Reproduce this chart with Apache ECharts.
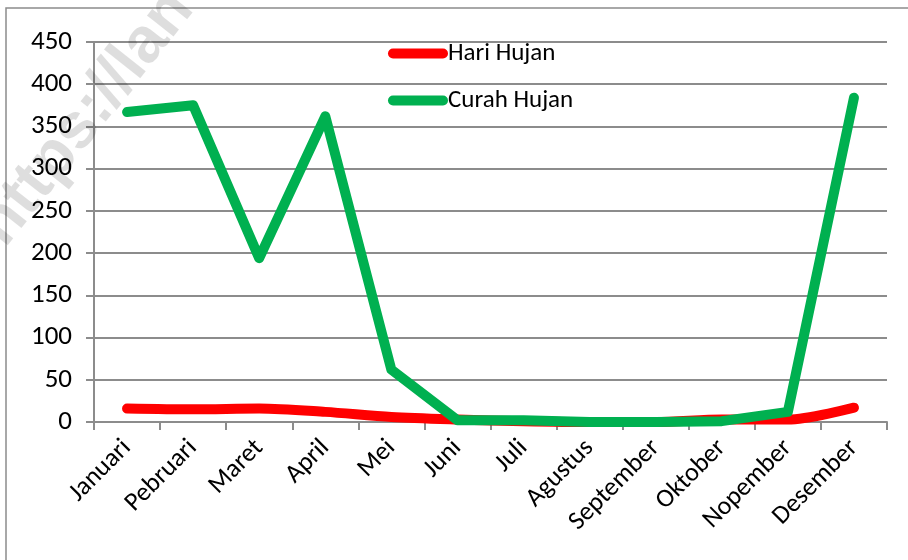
<!DOCTYPE html>
<html>
<head>
<meta charset="utf-8">
<title>Hari Hujan dan Curah Hujan</title>
<script src="https://cdn.jsdelivr.net/npm/echarts@6/dist/echarts.min.js"></script>
<style>
  body { margin: 0; background: #fff; }
  #main { width: 908px; height: 560px; }
</style>
</head>
<body>
<div id="main"></div>
<script>
// data
const months = ['Januari', 'Pebruari', 'Maret', 'April', 'Mei', 'Juni', 'Juli',
  'Agustus', 'September', 'Oktober', 'Nopember', 'Desember'];
const hariHujan = [16, 15, 16, 12, 6, 3, 1, 0, 0, 3, 3, 17];
const curahHujan = [367, 375, 194, 362, 62, 2, 2, 0, 0, 1, 12, 384];
const yTicks = [0, 50, 100, 150, 200, 250, 300, 350, 400, 450];

const font = 'Carlito, Lato, "Open Sans", sans-serif';
const legendIcon = 'path://M5,0 H55 A5,5 0 0 1 55,10 H5 A5,5 0 0 1 5,0 Z';

const option = {
  animation: false,
  backgroundColor: '#fff',
  grid: { left: 94, right: 21, top: 42, bottom: 138 },
  legend: {
    orient: 'vertical',
    left: 383,
    top: 36,
    itemWidth: 60,
    itemHeight: 10,
    itemGap: 22,
    icon: legendIcon,
    textStyle: { fontFamily: font, fontSize: 25, color: '#000', padding: [0, 0, 0, -5] },
    data: ['Hari Hujan', 'Curah Hujan']
  },
  xAxis: {
    type: 'category',
    data: months,
    boundaryGap: true,
    axisLine: { lineStyle: { color: '#8c8c8c', width: 2 } },
    axisTick: { show: true, length: 8, lineStyle: { color: '#8c8c8c', width: 2 } },
    axisLabel: { rotate: 45, fontFamily: font, fontSize: 26, color: '#000', margin: 22, interval: 0 }
  },
  yAxis: {
    type: 'value',
    min: yTicks[0],
    max: yTicks[yTicks.length - 1],
    interval: 50,
    axisLine: { show: true, lineStyle: { color: '#8c8c8c', width: 2 } },
    axisTick: { show: true, length: 8, lineStyle: { color: '#8c8c8c', width: 2 } },
    axisLabel: { fontFamily: font, fontSize: 27, color: '#000', margin: 22 },
    splitLine: { lineStyle: { color: '#8c8c8c', width: 2 } }
  },
  series: [
    {
      name: 'Hari Hujan',
      type: 'line',
      data: hariHujan,
      smooth: 0.3,
      symbol: 'none',
      itemStyle: { color: '#ff0000' },
      lineStyle: { color: '#ff0000', width: 10, cap: 'round', join: 'round' }
    },
    {
      name: 'Curah Hujan',
      type: 'line',
      data: curahHujan,
      symbol: 'none',
      itemStyle: { color: '#00b050' },
      lineStyle: { color: '#00b050', width: 10, cap: 'round', join: 'round' }
    }
  ],
  graphic: [
    {
      type: 'rect',
      shape: { x: 6, y: 8, width: 920, height: 600 },
      style: { fill: 'none', stroke: '#8c8c8c', lineWidth: 1.5 },
      silent: true
    },
    {
      type: 'text',
      x: -34, y: 218,
      rotation: 0.9,
      style: { text: 'https://lan', font: 'bold 64px "Liberation Sans", sans-serif', fill: 'rgba(0,0,0,0.13)' },
      silent: true,
      z: 100
    }
  ]
};

const chart = echarts.init(document.getElementById('main'));
chart.setOption(option);
</script>
</body>
</html>
